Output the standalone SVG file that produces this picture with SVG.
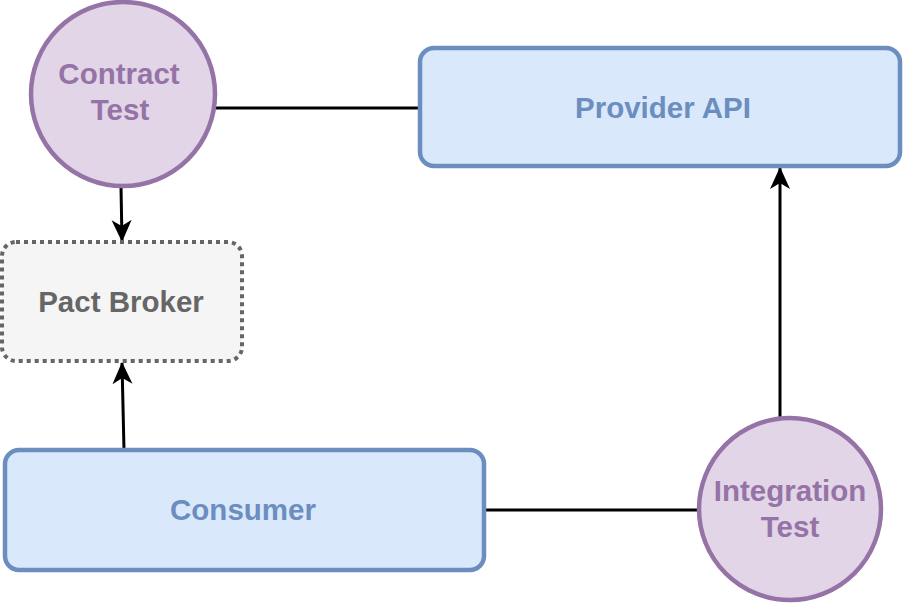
<svg xmlns="http://www.w3.org/2000/svg" width="903" height="604" viewBox="0 0 903 604">
<defs>
<marker id="arr" markerWidth="24" markerHeight="22" refX="21" refY="10" orient="auto" markerUnits="userSpaceOnUse">
<path d="M0,0 L22,10 L0,20 L6,10 Z" fill="#000"/>
</marker>
<style>
.purple{fill:#e1d5e7;stroke:#9673a6;stroke-width:4.5}
.blue{fill:#dae8fc;stroke:#6c8ebf;stroke-width:4.5}
.grey{fill:#f5f5f5;stroke:#666666;stroke-width:4;stroke-dasharray:4 4}
.t{font-family:"Liberation Sans",Arial,sans-serif;font-weight:bold;font-size:29.5px;text-anchor:middle}
.tp{fill:#9673a6}
.tb{fill:#6c8ebf}
.tg{fill:#666666}
.c{stroke:#000;stroke-width:3;fill:none}
</style>
</defs>
<rect width="903" height="604" fill="#fff"/>
<g id="connectors">
<line class="c" x1="215" y1="108" x2="420" y2="108"/>
<line class="c" x1="121" y1="187" x2="122" y2="241" marker-end="url(#arr)"/>
<line class="c" x1="124" y1="450" x2="122" y2="363" marker-end="url(#arr)"/>
<line class="c" x1="484" y1="510" x2="699" y2="510"/>
<line class="c" x1="780" y1="418" x2="780" y2="168" marker-end="url(#arr)"/>
</g>
<g id="contract-test">
<circle class="purple" cx="123" cy="94" r="92"/>
<text class="t tp" x="119" y="84">Contract</text>
<text class="t tp" x="120" y="120">Test</text>
</g>
<g id="provider-api">
<rect class="blue" x="420" y="48" width="480" height="118" rx="14"/>
<text class="t tb" x="663" y="118">Provider API</text>
</g>
<g id="pact-broker">
<rect class="grey" x="2" y="242" width="240" height="119" rx="14"/>
<text class="t tg" x="121" y="312">Pact Broker</text>
</g>
<g id="consumer">
<rect class="blue" x="5" y="450" width="479" height="120" rx="14"/>
<text class="t tb" x="243" y="520">Consumer</text>
</g>
<g id="integration-test">
<circle class="purple" cx="790" cy="509" r="91"/>
<text class="t tp" x="790" y="501">Integration</text>
<text class="t tp" x="790" y="537">Test</text>
</g>
</svg>
